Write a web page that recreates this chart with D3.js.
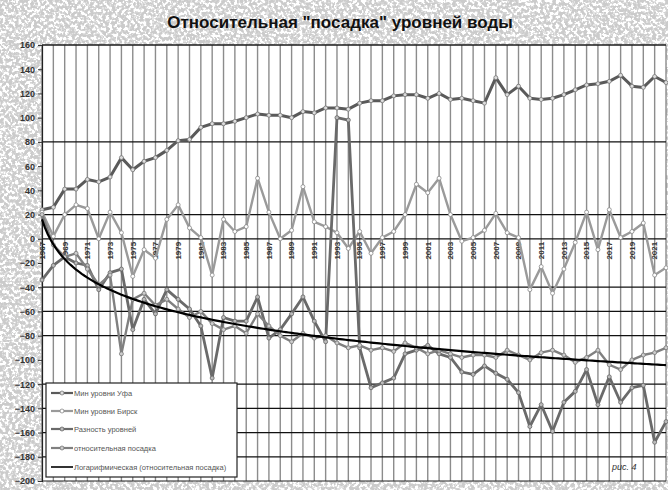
<!DOCTYPE html>
<html>
<head>
<meta charset="utf-8">
<script src="https://cdn.jsdelivr.net/npm/d3@7"></script>
<style>
  body { margin: 0; background: #fff; }
  svg { display: block; font-family: "Liberation Sans", Arial, sans-serif; }
</style>
</head>
<body>
<div class="canvas"></div>
<script>
const years = [1967,1968,1969,1970,1971,1972,1973,1974,1975,1976,1977,1978,1979,1980,1981,1982,1983,1984,1985,1986,
  1987,1988,1989,1990,1991,1992,1993,1994,1995,1996,1997,1998,1999,2000,2001,2002,2003,2004,2005,2006,
  2007,2008,2009,2010,2011,2012,2013,2014,2015,2016,2017,2018,2019,2020,2021,2022];
const yearLabels = [1967,1969,1971,1973,1975,1977,1979,1981,1983,1985,1987,1989,1991,1993,1995,1997,1999,
  2001,2003,2005,2007,2009,2011,2013,2015,2017,2019,2021];

const ufa = [24,26,41,41,49,47,51,67,57,64,67,73,81,82,92,95,95,97,100,103,102,102,100,105,104,108,108,107,
  112,114,114,118,119,119,116,120,115,116,114,112,133,119,126,116,115,116,119,123,127,128,130,135,126,125,134,129];
const birsk = [22,2,20,28,25,0,22,5,-31,-9,-16,16,28,9,1,-30,16,6,10,50,22,0,7,43,14,10,5,
  -8,6,-12,1,6,20,45,38,50,20,-2,1,7,21,5,1,-42,-23,-45,-25,-3,22,-9,24,1,6,13,-30,-24];
const diff = [-34,-22,-15,-20,-22,-42,-28,-25,-75,-50,-62,-42,-50,-58,-72,-115,-65,-68,-68,-48,-82,-75,-62,-48,
  -68,-85,100,98,-90,-123,-119,-115,-95,-92,-88,-95,-98,-110,-112,-105,-111,-116,-127,-155,-137,-159,-135,-126,
  -108,-137,-114,-135,-123,-121,-168,-151];
const subsidence = [20,-5,-15,-12,-25,-38,-30,-95,-50,-45,-55,-50,-58,-65,-60,-70,-75,-72,-78,-62,-72,-80,-85,
  -78,-82,-80,-86,-90,-88,-92,-90,-93,-86,-90,-95,-92,-95,-98,-96,-96,-98,-92,-96,-100,-94,-92,-96,-102,
  -98,-92,-104,-108,-100,-96,-94,-90];

const yTicks = [160,140,120,100,80,60,40,20,0,-20,-40,-60,-80,-100,-120,-140,-160,-180,-200];
const yGrid = [160,80,20,0,-40,-60,-80,-120,-140,-160,-180];

const seriesNames = ['Мин уровни Уфа', 'Мин уровни Бирск', 'Разность уровней', 'относительная посадка'];
const trendName = 'Логарифмическая (относительная посадка)';

const dims = { w: 668, h: 490 };
const plot = { l: 42, r: 666, t: 45, b: 481 };

const svg = d3.select('.canvas')
  .append('svg')
    .attr('width', dims.w)
    .attr('height', dims.h);

// speckled paper background
const defs = svg.append('defs');
const f = defs.append('filter').attr('id', 'speckle')
  .attr('x', 0).attr('y', 0).attr('width', '100%').attr('height', '100%');
f.append('feTurbulence').attr('type', 'fractalNoise').attr('baseFrequency', 0.32)
  .attr('numOctaves', 2).attr('seed', 7).attr('result', 'n');
f.append('feColorMatrix').attr('type', 'matrix')
  .attr('values', '0 0 0 0 0.6  0 0 0 0 0.6  0 0 0 0 0.6  2.8 0 0 0 -0.8');
f.append('feComponentTransfer').append('feFuncA').attr('type', 'discrete')
  .attr('tableValues', '0 0 0.55 0.85 1');

svg.append('rect').attr('width', dims.w).attr('height', dims.h).attr('fill', '#fff');
svg.append('rect').attr('width', dims.w).attr('height', dims.h).attr('filter', 'url(#speckle)');

svg.append('rect')
  .attr('x', plot.l).attr('y', plot.t)
  .attr('width', plot.r - plot.l).attr('height', plot.b - plot.t)
  .attr('fill', '#fff');

// scales
const x = d3.scaleLinear().domain([0, years.length - 1]).range([plot.l, plot.r]);
const y = d3.scaleLinear().domain([-200, 160]).range([plot.b, plot.t]);

// vertical grid, one per year
svg.append('g').selectAll('line')
  .data(years)
  .join('line')
    .attr('x1', (d, i) => x(i)).attr('x2', (d, i) => x(i))
    .attr('y1', plot.t).attr('y2', plot.b)
    .attr('stroke', '#8c8c8c')
    .attr('stroke-width', 1.4);

// horizontal grid
svg.append('g').selectAll('line')
  .data(yGrid)
  .join('line')
    .attr('x1', plot.l).attr('x2', plot.r)
    .attr('y1', d => y(d)).attr('y2', d => y(d))
    .attr('stroke', '#111')
    .attr('stroke-width', 1.2);

// y axis
const yAxis = svg.append('g')
  .attr('transform', `translate(${plot.l},0)`)
  .call(d3.axisLeft(y).tickValues(yTicks).tickSize(4).tickPadding(3));
yAxis.select('.domain').attr('stroke', '#222').attr('stroke-width', 1.2);
yAxis.selectAll('line').attr('stroke', '#333');
yAxis.selectAll('text')
  .attr('font-size', 9).attr('font-weight', 'bold').attr('fill', '#333')
  .attr('font-family', '"Liberation Sans", Arial, sans-serif');

svg.append('line')
  .attr('x1', plot.l).attr('x2', plot.r).attr('y1', plot.b).attr('y2', plot.b)
  .attr('stroke', '#222').attr('stroke-width', 1.2);

// x labels, rotated, sitting under the zero line
svg.append('g').selectAll('text')
  .data(yearLabels)
  .join('text')
    .attr('transform', d => `translate(${x(years.indexOf(d))},${y(0) + 3}) rotate(-90)`)
    .attr('text-anchor', 'end')
    .attr('dy', '0.35em')
    .attr('font-size', 8)
    .attr('font-weight', 'bold')
    .attr('fill', '#333')
    .text(d => d);

// series
const styles = [
  { data: ufa,        color: '#5a5a5a', width: 3,   mfill: '#ddd', mstroke: '#777' },
  { data: birsk,      color: '#9a9a9a', width: 2.4, mfill: '#fff', mstroke: '#888' },
  { data: diff,       color: '#6a6a6a', width: 2.8, mfill: '#bbb', mstroke: '#666' },
  { data: subsidence, color: '#808080', width: 2.4, mfill: '#ccc', mstroke: '#777' }
];

const line = d3.line()
  .x((d, i) => x(i))
  .y(d => y(d));

styles.forEach(s => {
  const g = svg.append('g');
  g.append('path')
    .attr('d', line(s.data))
    .attr('fill', 'none')
    .attr('stroke', s.color)
    .attr('stroke-width', s.width)
    .attr('stroke-linejoin', 'round');
  g.selectAll('circle')
    .data(s.data)
    .join('circle')
      .attr('cx', (d, i) => x(i))
      .attr('cy', d => y(d))
      .attr('r', 2)
      .attr('fill', s.mfill)
      .attr('stroke', s.mstroke)
      .attr('stroke-width', 0.8);
});

// logarithmic trend of the subsidence series, y = a*ln(n) + b
const lnX = subsidence.map((d, i) => Math.log(i + 1));
const mx = d3.mean(lnX);
const my = d3.mean(subsidence);
const a = d3.sum(lnX, (v, i) => (v - mx) * (subsidence[i] - my)) / d3.sum(lnX, v => (v - mx) ** 2);
const b = my - a * mx;

const trendPts = d3.range(0, years.length - 1 + 0.01, 0.25);
svg.append('path')
  .attr('d', d3.line().x(t => x(t)).y(t => y(a * Math.log(t + 1) + b))(trendPts))
  .attr('fill', 'none')
  .attr('stroke', '#000')
  .attr('stroke-width', 2.2);

// top border
svg.append('line')
  .attr('x1', plot.l).attr('x2', plot.r).attr('y1', plot.t).attr('y2', plot.t)
  .attr('stroke', '#222').attr('stroke-width', 1.2);

// title
svg.append('text')
  .attr('x', 340).attr('y', 28)
  .attr('text-anchor', 'middle')
  .attr('font-size', 17)
  .attr('font-weight', 'bold')
  .attr('fill', '#111')
  .text('Относительная "посадка" уровней воды');

// legend
const legend = svg.append('g').attr('transform', 'translate(46,383)');
legend.append('rect')
  .attr('width', 191).attr('height', 94)
  .attr('fill', '#fff').attr('stroke', '#222').attr('stroke-width', 1.2);

const legendItems = styles.map((s, i) => ({ name: seriesNames[i], s }))
  .concat([{ name: trendName, s: { color: '#000', width: 1.6 } }]);
const itemY = [10, 28, 46, 65, 84];

const li = legend.selectAll('g.item')
  .data(legendItems)
  .join('g')
    .attr('class', 'item')
    .attr('transform', (d, i) => `translate(0,${itemY[i]})`);
li.append('line')
  .attr('x1', 5).attr('x2', 27)
  .attr('stroke', d => d.s.color)
  .attr('stroke-width', d => Math.min(d.s.width, 2.2));
li.filter(d => d.s.mfill)
  .append('circle')
    .attr('cx', 16).attr('r', 2)
    .attr('fill', d => d.s.mfill).attr('stroke', d => d.s.mstroke).attr('stroke-width', 0.8);
li.append('text')
  .attr('x', 28).attr('dy', '0.35em')
  .attr('font-size', 7.5)
  .attr('fill', '#555')
  .text(d => d.name);

svg.append('text')
  .attr('x', 612).attr('y', 470)
  .attr('font-size', 9)
  .attr('font-style', 'italic')
  .attr('fill', '#333')
  .text('рис. 4');
</script>
</body>
</html>
